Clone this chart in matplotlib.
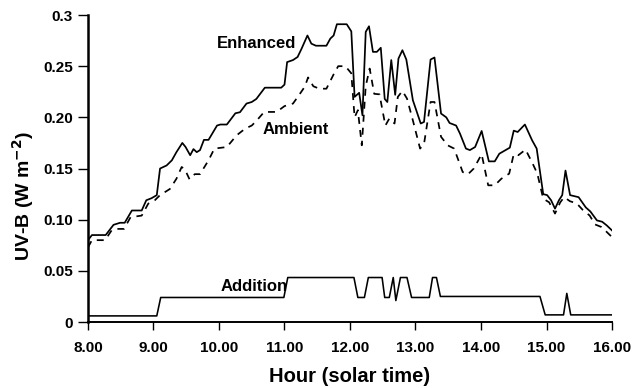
import numpy as np
import matplotlib.pyplot as plt

plt.rcParams['font.family'] = ['Liberation Sans', 'DejaVu Sans']
plt.rcParams['font.weight'] = 'bold'
plt.rcParams['mathtext.default'] = 'bf'

# Enhanced UV-B (solid)
enh_h = [8.00, 8.06, 8.27, 8.39, 8.49, 8.56, 8.67, 8.82, 8.89, 8.97, 9.05, 9.10, 9.20, 9.28,
         9.35, 9.44, 9.49, 9.56, 9.61, 9.66, 9.71, 9.77, 9.84, 9.97, 10.02, 10.12, 10.25,
         10.32, 10.42, 10.50, 10.57, 10.70, 10.95, 11.00, 11.04, 11.13, 11.20, 11.26, 11.35,
         11.41, 11.48, 11.64, 11.70, 11.75, 11.80, 11.95, 12.02, 12.07, 12.14, 12.19, 12.24,
         12.29, 12.35, 12.41, 12.47, 12.53, 12.57, 12.63, 12.69, 12.74, 12.80, 12.86, 12.96,
         13.08, 13.13, 13.23, 13.29, 13.39, 13.47, 13.52, 13.62, 13.68, 13.77, 13.83, 13.91,
         14.01, 14.12, 14.21, 14.28, 14.44, 14.50, 14.56, 14.67, 14.78, 14.85, 14.95, 15.01,
         15.07, 15.13, 15.19, 15.24, 15.29, 15.36, 15.49, 15.60, 15.67, 15.77, 15.85, 15.92,
         16.00]
enh_v = [0.080, 0.085, 0.085, 0.095, 0.097, 0.097, 0.109, 0.109, 0.119, 0.121, 0.124, 0.150,
         0.153, 0.158, 0.166, 0.175, 0.171, 0.163, 0.169, 0.166, 0.168, 0.178, 0.178, 0.192,
         0.193, 0.193, 0.204, 0.205, 0.2135, 0.215, 0.218, 0.229, 0.229, 0.232, 0.254, 0.256,
         0.259, 0.267, 0.280, 0.272, 0.270, 0.270, 0.277, 0.280, 0.291, 0.291, 0.284, 0.220,
         0.224, 0.202, 0.2835, 0.289, 0.264, 0.264, 0.268, 0.218, 0.215, 0.256, 0.222, 0.2575,
         0.2656, 0.2565, 0.2167, 0.194, 0.1955, 0.2565, 0.2585, 0.2037, 0.200, 0.1945, 0.192,
         0.184, 0.1695, 0.168, 0.171, 0.1867, 0.157, 0.157, 0.1645, 0.1704, 0.187, 0.1857,
         0.193, 0.1776, 0.1695, 0.125, 0.124, 0.119, 0.1108, 0.119, 0.124, 0.148, 0.124, 0.122,
         0.112, 0.108, 0.0993, 0.098, 0.0944, 0.0895]

# Ambient UV-B (dashed)
amb_h = [8.00, 8.06, 8.26, 8.36, 8.43, 8.55, 8.65, 8.82, 8.92, 9.02, 9.10, 9.25, 9.35, 9.43,
         9.48, 9.55, 9.63, 9.71, 9.84, 9.93, 10.12, 10.27, 10.40, 10.50, 10.57, 10.69, 10.88,
         11.00, 11.13, 11.22, 11.31, 11.36, 11.44, 11.53, 11.64, 11.75, 11.82, 11.93, 12.02,
         12.07, 12.12, 12.18, 12.24, 12.30, 12.37, 12.45, 12.54, 12.60, 12.68, 12.73, 12.80,
         12.87, 12.96, 13.07, 13.13, 13.23, 13.29, 13.39, 13.49, 13.59, 13.72, 13.80, 13.89,
         14.01, 14.11, 14.21, 14.31, 14.43, 14.50, 14.57, 14.68, 14.78, 14.86, 14.95, 15.04,
         15.13, 15.21, 15.27, 15.36, 15.46, 15.55, 15.66, 15.74, 15.84, 15.91, 16.00]
amb_v = [0.073, 0.080, 0.080, 0.0895, 0.091, 0.091, 0.1025, 0.104, 0.1157, 0.119, 0.124,
         0.130, 0.140, 0.1515, 0.149, 0.1395, 0.1445, 0.1445, 0.158, 0.1695, 0.171, 0.1825,
         0.189, 0.192, 0.1965, 0.2053, 0.2053, 0.211, 0.2135, 0.2216, 0.230, 0.239, 0.2304,
         0.228, 0.228, 0.242, 0.250, 0.250, 0.243, 0.200, 0.207, 0.1727, 0.2304, 0.2477, 0.223,
         0.2225, 0.192, 0.1988, 0.194, 0.220, 0.2258, 0.2184, 0.197, 0.1695, 0.174, 0.215, 0.215,
         0.181, 0.1727, 0.1695, 0.1466, 0.1443, 0.150, 0.164, 0.1336, 0.1336, 0.140, 0.145,
         0.164, 0.163, 0.1685, 0.156, 0.145, 0.1205, 0.117, 0.106, 0.117, 0.122, 0.118, 0.116,
         0.1098, 0.104, 0.0954, 0.0928, 0.0886, 0.083]

# Addition (enhanced minus ambient)
add_h = [8.00, 9.05, 9.11, 10.99, 11.05, 12.06, 12.12, 12.22, 12.28, 12.49, 12.53, 12.60,
         12.66, 12.70, 12.77, 12.87, 12.94, 13.21, 13.26, 13.32, 13.38, 14.90, 14.98, 15.26,
         15.31, 15.37, 16.00]
add_v = [0.006, 0.006, 0.024, 0.024, 0.0435, 0.0435, 0.024, 0.024, 0.0435, 0.0435, 0.024,
         0.024, 0.0435, 0.021, 0.0435, 0.0435, 0.024, 0.024, 0.0435, 0.0435, 0.025, 0.025,
         0.007, 0.007, 0.028, 0.007, 0.007]

xticks = [8, 9, 10, 11, 12, 13, 14, 15, 16]
xlabels = ['8.00', '9.00', '10.00', '11.00', '12.00', '13.00', '14.00', '15.00', '16.00']
yticks = [0, 0.05, 0.10, 0.15, 0.20, 0.25, 0.3]
ylabels = ['0', '0.05', '0.10', '0.15', '0.20', '0.25', '0.3']

fig = plt.figure(figsize=(6.34, 3.88), dpi=100)
ax = fig.add_axes([0.1388, 0.170, 0.8265, 0.7913])

ax.plot(enh_h, enh_v, color='black', lw=1.25)
ax.plot(amb_h, amb_v, color='black', lw=1.25, ls=(0, (4, 3.5)))
ax.plot(add_h, add_v, color='black', lw=1.15)

ax.text(9.97, 0.2725, 'Enhanced', fontsize=12, fontweight='bold', ha='left', va='center')
ax.text(10.67, 0.188, 'Ambient', fontsize=12, fontweight='bold', ha='left', va='center')
ax.text(10.03, 0.0347, 'Addition', fontsize=12, fontweight='bold', ha='left', va='center')

ax.set_xlim(8, 16)
ax.set_ylim(0, 0.3)
ax.set_xticks(xticks)
ax.set_xticklabels(xlabels)
ax.set_yticks(yticks)
ax.set_yticklabels(ylabels)
ax.tick_params(axis='x', direction='out', length=6, width=1, pad=8, labelsize=11)
ax.tick_params(axis='y', direction='out', length=7, width=1, pad=4, labelsize=11)
for lab in ax.get_xticklabels() + ax.get_yticklabels():
    lab.set_fontweight('bold')

ax.spines['top'].set_visible(False)
ax.spines['right'].set_visible(False)
ax.spines['left'].set_linewidth(1.8)
ax.spines['bottom'].set_linewidth(1.4)

ax.set_xlabel('Hour (solar time)', fontsize=14.5, fontweight='bold', labelpad=8)
ax.set_ylabel('UV-B (W m$^{-2}$)', fontsize=14, fontweight='bold')
ax.yaxis.set_label_coords(-0.10, 0.41)

fig.savefig('out.png', dpi=100)
